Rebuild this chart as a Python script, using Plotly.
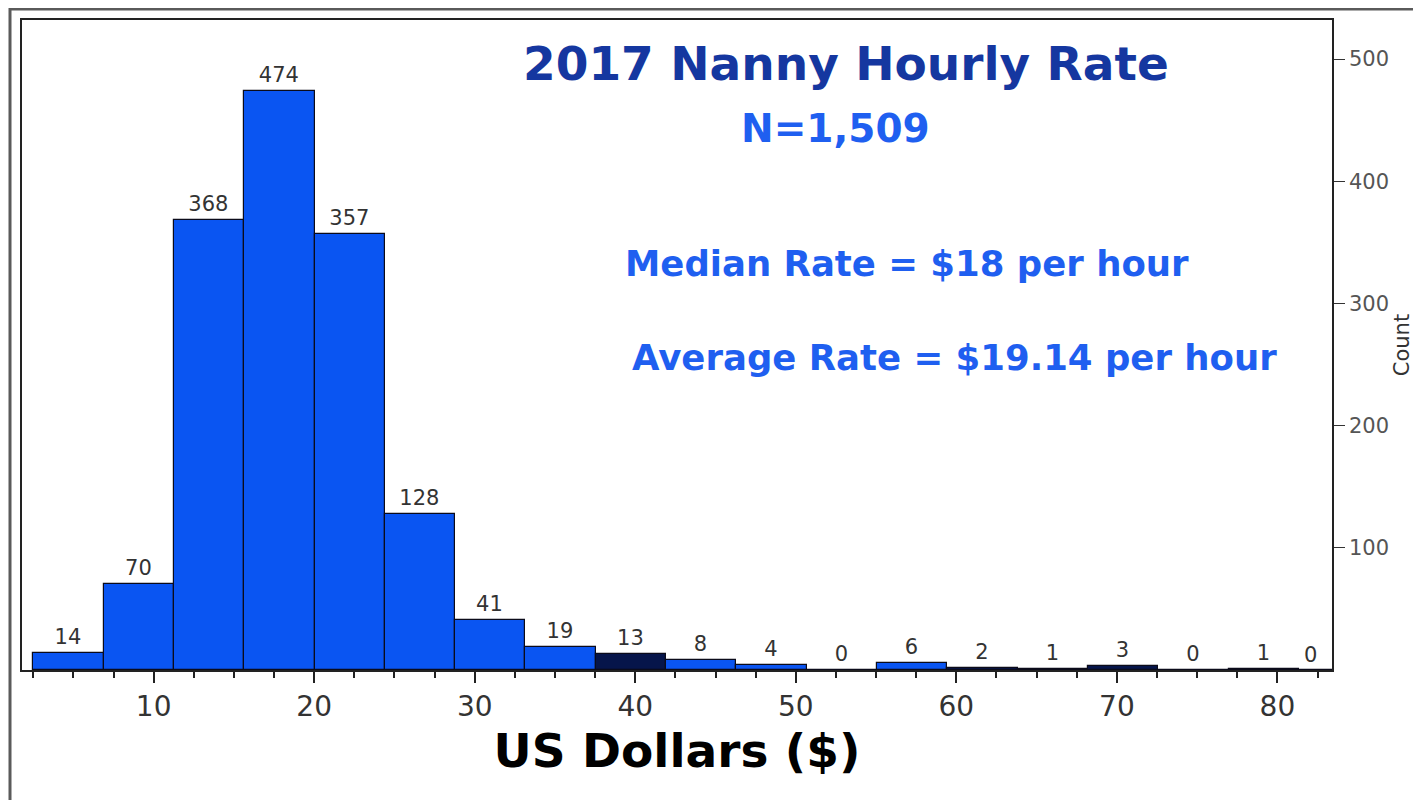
import plotly.graph_objects as go

# ---- data ----
counts = [14, 70, 368, 474, 357, 128, 41, 19, 13, 8, 4, 0, 6, 2, 1, 3, 0, 1, 0]
bar_colors = ["#0a55f2"] * 8 + ["#06154a", "#0a55f2", "#0a55f2", "#0a55f2", "#0a55f2",
                                 "#06154a", "#0a55f2", "#06154a", "#0a55f2", "#0a55f2", "#0a55f2"]
x_tick_vals = [10, 20, 30, 40, 50, 60, 70, 80]
y_tick_vals = [100, 200, 300, 400, 500]
title_text = "2017 Nanny Hourly Rate"
n_text = "N=1,509"
median_text = "Median Rate = $18 per hour"
average_text = "Average Rate = $19.14 per hour"
x_title = "US Dollars ($)"
y_title = "Count"

BIN_START = 2.5
BIN_WIDTH = 4.38
X_RANGE = [1.8, 83.4]
centers = [BIN_START + BIN_WIDTH * (i + 0.5) for i in range(len(counts))]

FONT = "DejaVu Sans"
LABEL_FONT = dict(family=FONT, size=21, color="#333333")

# bars whose centre falls inside the axis get their label on the bar;
# the last bin lies past the axis end, so its label is clamped inside the frame
inside = [c <= X_RANGE[1] for c in centers]

fig = go.Figure()
fig.add_trace(go.Bar(
    x=centers,
    y=counts,
    width=[BIN_WIDTH] * len(counts),
    marker=dict(color=bar_colors, line=dict(color="#0b0b1a", width=1.2)),
    text=[str(c) if ok else "" for c, ok in zip(counts, inside)],
    textposition="outside",
    textfont=LABEL_FONT,
    cliponaxis=False,
    showlegend=False,
))

# page has an 8px body margin: figure is drawn from screen (8, 8)
OFF = 8
W, H = 1421 - OFF, 800 - OFF
PL, PR, PT, PB = 22, 1332, 18, 670  # plot area in screen px
L, R, T, B = PL - OFF, 1421 - PR, PT - OFF, 800 - PB
pw, ph = PR - PL, PB - PT


def px(xs):
    return (xs - PL) / pw


def py(ys):
    return (PB - ys) / ph


annos = [
    dict(text=title_text, x=px(846), y=py(62), font=dict(family=FONT, size=47, color="#1537a0")),
    dict(text=n_text, x=px(836), y=py(127), font=dict(family=FONT, size=39, color="#1f5ff0")),
    dict(text=median_text, x=px(907), y=py(262), font=dict(family=FONT, size=35.5, color="#1f5ff0")),
    dict(text=average_text, x=px(954), y=py(357), font=dict(family=FONT, size=35.5, color="#1f5ff0")),
]
for a in annos:
    a.update(xref="paper", yref="paper", xanchor="center", yanchor="middle", showarrow=False)
    a["text"] = "<b>" + a["text"] + "</b>"

for c, v, ok in zip(centers, counts, inside):
    if not ok:
        annos.append(dict(text=str(v), x=X_RANGE[1] - 0.8, y=v, xref="x", yref="y",
                          xanchor="right", yanchor="bottom", yshift=1, showarrow=False,
                          font=LABEL_FONT))

fig.update_layout(
    width=W, height=H,
    margin=dict(l=L, r=R, t=T, b=B),
    paper_bgcolor="white",
    plot_bgcolor="white",
    bargap=0,
    annotations=annos,
    shapes=[dict(type="rect", xref="paper", yref="paper",
                 x0=px(10), x1=px(1440), y0=py(815), y1=py(7),
                 line=dict(color="#5a5a5a", width=3), layer="below")],
    xaxis=dict(
        range=X_RANGE,
        tickvals=x_tick_vals,
        ticks="outside", ticklen=11, tickwidth=1.5, tickcolor="#222",
        minor=dict(dtick=2.5, tick0=0, ticks="outside", ticklen=6, tickwidth=1.5, tickcolor="#222"),
        showline=True, linecolor="#222", linewidth=1.5, mirror=True,
        showgrid=False, zeroline=False,
        tickfont=dict(family=FONT, size=28, color="#333333"),
        title=dict(text="<b>" + x_title + "</b>", font=dict(family=FONT, size=47, color="#000000"), standoff=10),
    ),
    yaxis=dict(
        range=[0, 532],
        side="right",
        tickvals=y_tick_vals,
        ticks="outside", ticklen=11, tickwidth=1.2, tickcolor="#333",
        showline=True, linecolor="#222", linewidth=1.5, mirror=True,
        showgrid=False, zeroline=False,
        tickfont=dict(family=FONT, size=21, color="#555555"),
        title=dict(text=y_title, font=dict(family=FONT, size=21, color="#333333"), standoff=6),
    ),
)

fig.write_html("out.html")
